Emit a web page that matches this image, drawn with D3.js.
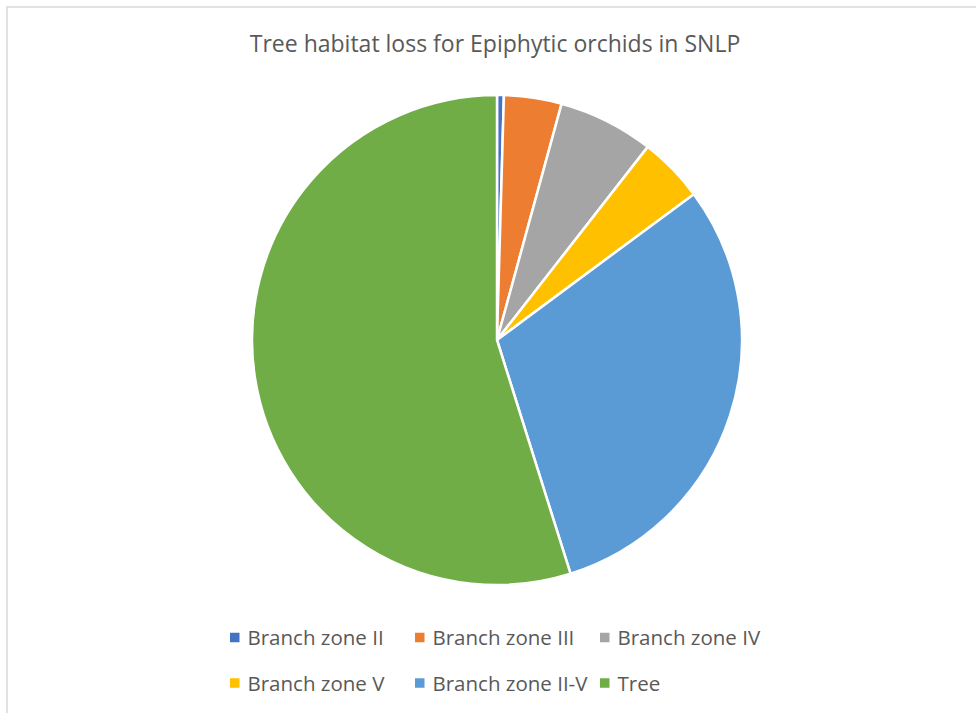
<!DOCTYPE html>
<html>
<head>
<meta charset="utf-8">
<script src="https://cdn.jsdelivr.net/npm/d3@7"></script>
<style>
  body { margin: 0; background: #fff; }
  text { font-family: "Open Sans", "Liberation Sans", sans-serif; fill: #595959; }
</style>
</head>
<body>
<script>
// data (share of trees, %)
const categories = ['Branch zone II', 'Branch zone III', 'Branch zone IV', 'Branch zone V', 'Branch zone II-V', 'Tree'];
const values = [0.45, 3.8, 6.3, 4.3, 30.3, 54.85];
const colors = ['#4472C4', '#ED7D31', '#A5A5A5', '#FFC000', '#5B9BD5', '#70AD47'];
const title = 'Tree habitat loss for Epiphytic orchids in SNLP';

const width = 976, height = 713;
const cx = 497, cy = 340, radius = 245;

const svg = d3.select('body')
  .append('svg')
  .attr('width', width)
  .attr('height', height);

// chart area border (runs off the right/bottom edges)
svg.append('rect')
  .attr('x', 7).attr('y', 7)
  .attr('width', 1000).attr('height', 1000)
  .attr('fill', 'none')
  .attr('stroke', '#d9d9d9')
  .attr('stroke-width', 1.5);

svg.append('text')
  .attr('x', 495)
  .attr('y', 52)
  .attr('text-anchor', 'middle')
  .style('font-size', '23px')
  .text(title);

const data = categories.map((c, i) => ({ name: c, value: values[i], color: colors[i] }));

const pie = d3.pie()
  .sort(null)
  .value(d => d.value);

const arc = d3.arc()
  .innerRadius(0)
  .outerRadius(radius);

svg.append('g')
  .attr('transform', 'translate(' + cx + ',' + cy + ')')
  .selectAll('path')
  .data(pie(data))
  .enter()
  .append('path')
  .attr('d', arc)
  .attr('fill', d => d.data.color)
  .attr('stroke', '#fff')
  .attr('stroke-width', 2.5)
  .attr('stroke-linejoin', 'round');

// legend, 3 columns x 2 rows
const colX = d3.scaleBand().domain([0, 1, 2]).range([230, 785]);
const rowY = d3.scaleBand().domain([0, 1]).range([615, 706]);

const legend = svg.append('g')
  .selectAll('g')
  .data(data)
  .enter()
  .append('g')
  .attr('transform', (d, i) => 'translate(' + colX(i % 3) + ',' + (rowY(Math.floor(i / 3)) + rowY.bandwidth() / 2) + ')');

legend.append('rect')
  .attr('x', 0)
  .attr('y', -5)
  .attr('width', 9.5)
  .attr('height', 9.5)
  .attr('fill', d => d.color);

legend.append('text')
  .attr('x', 17.5)
  .attr('y', 7.5)
  .style('font-size', '20.5px')
  .text(d => d.name);
</script>
</body>
</html>
